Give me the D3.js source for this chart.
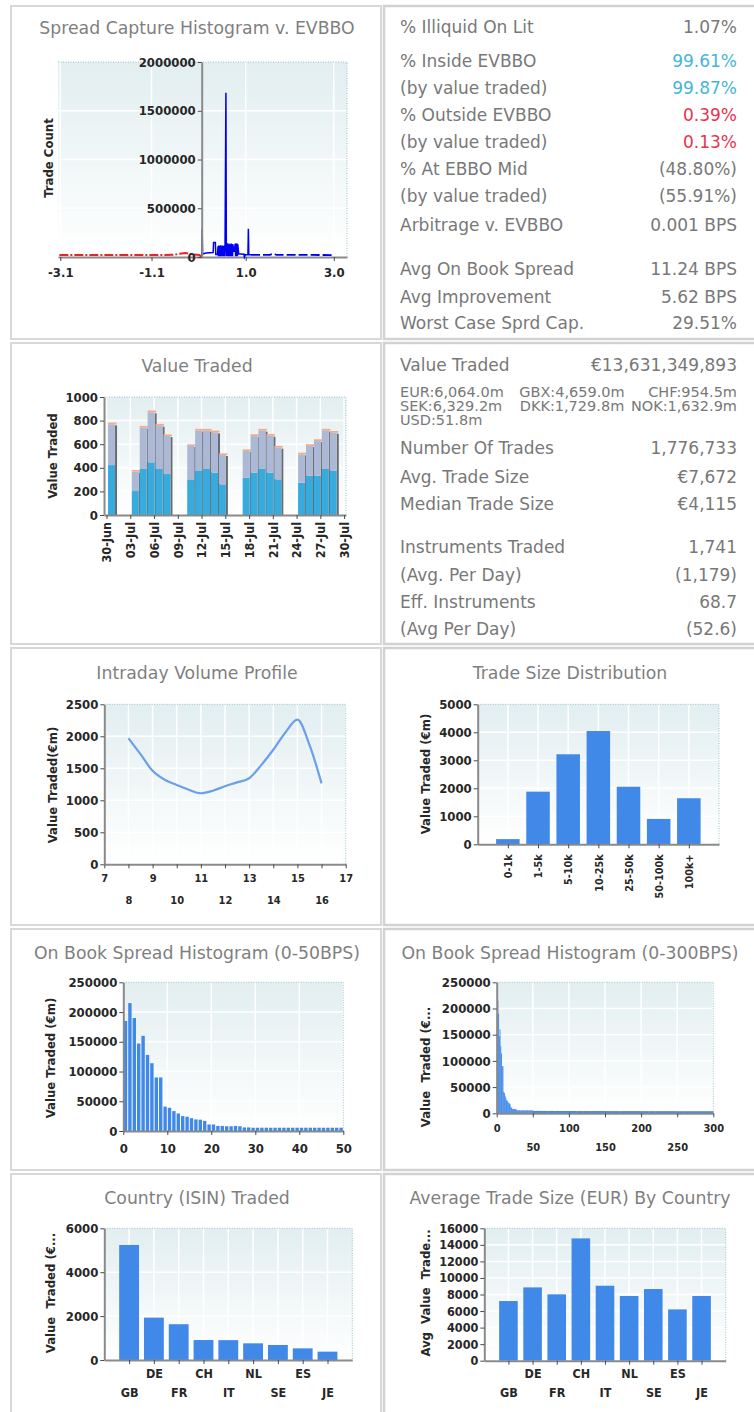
<!DOCTYPE html>
<html>
<head>
<meta charset="utf-8">
<script src="https://cdn.jsdelivr.net/npm/d3@7/dist/d3.min.js"></script>
<style>
  body { margin: 0; background: #fff; }
  svg { display: block; }
  .title { font-family: 'DejaVu Sans', Verdana, sans-serif; font-size: 17.3px; fill: #7f7f7f; }
  .stat { font-family: 'DejaVu Sans', Verdana, sans-serif; font-size: 17px; fill: #787878; }
  .small { font-size: 14.5px; }
  .bold { font-family: 'DejaVu Sans Condensed', 'DejaVu Sans', sans-serif; font-stretch: condensed; font-weight: bold; fill: #272727; }
</style>
</head>
<body>
<script>
// ---- data ----

// spread capture histogram v. EVBBO (x: spread fraction, y: trade count)
const captureRed = [[-3.12, 20000], [-2.0, 20000], [-1.0, 21000], [-0.6, 22000], [-0.5, 34000],
  [-0.35, 40000], [-0.2, 28000], [-0.05, 20000], [0, 0]];
const captureBlue = [[0, 0], [0.01, 290000], [0.02, 30000], [0.10, 40000], [0.26, 45000],
  [0.27, 150000], [0.31, 150000], [0.32, 25000], [0.36, 25000],
  [0.37, 110000], [0.38, 8000], [0.39, 118000], [0.40, 8000], [0.41, 115000], [0.42, 8000],
  [0.43, 120000], [0.44, 8000], [0.45, 116000], [0.46, 8000], [0.47, 118000], [0.48, 8000],
  [0.49, 112000], [0.50, 8000], [0.51, 118000], [0.52, 8000], [0.53, 114000],
  [0.55, 1685000], [0.56, 10000],
  [0.57, 135000], [0.58, 8000], [0.59, 140000], [0.60, 8000], [0.61, 128000], [0.62, 8000],
  [0.63, 136000], [0.64, 8000], [0.65, 130000], [0.66, 8000], [0.67, 138000], [0.68, 8000],
  [0.69, 132000], [0.70, 8000], [0.71, 130000], [0.72, 60000], [0.74, 60000],
  [0.76, 135000], [0.77, 8000], [0.78, 140000], [0.79, 8000], [0.80, 138000], [0.81, 8000],
  [0.82, 130000], [0.84, 30000], [0.88, 30000], [0.96, 28000], [0.97, 0], [0.99, 22000],
  [1.05, 22000], [1.06, 290000], [1.07, 22000], [1.12, 22000]];
const captureTail = [[1.12, 22000], [1.55, 22000], [1.62, 34000], [1.7, 22000], [3.0, 20000]];
const captureXTicks = [-3.1, -1.1, 1.0, 3.0];
const captureYTicks = [0, 500000, 1000000, 1500000, 2000000];

// execution quality stats
const stats1Labels = ["% Illiquid On Lit", "% Inside EVBBO", "(by value traded)", "% Outside EVBBO",
  "(by value traded)", "% At EBBO Mid", "(by value traded)", "Arbitrage v. EVBBO",
  "Avg On Book Spread", "Avg Improvement", "Worst Case Sprd Cap."];
const stats1Values = ["1.07%", "99.61%", "99.87%", "0.39%", "0.13%", "(48.80%)", "(55.91%)",
  "0.001 BPS", "11.24 BPS", "5.62 BPS", "29.51%"];
const stats1Tone = ["", "in", "in", "out", "out", "", "", "", "", "", ""];

// value traded per day (€m), stacked
const vtDates = ["2017-06-30", "2017-07-03", "2017-07-04", "2017-07-05", "2017-07-06", "2017-07-07",
  "2017-07-10", "2017-07-11", "2017-07-12", "2017-07-13", "2017-07-14",
  "2017-07-17", "2017-07-18", "2017-07-19", "2017-07-20", "2017-07-21",
  "2017-07-24", "2017-07-25", "2017-07-26", "2017-07-27", "2017-07-28"];
const vtLower = [423, 203, 390, 446, 390, 347, 302, 373, 390, 359, 260, 316, 359, 390, 359, 302, 274, 333, 333, 390, 376];
const vtUpper = [345, 164, 350, 424, 367, 322, 283, 342, 325, 341, 248, 226, 310, 325, 313, 269, 240, 252, 294, 325, 321];
const vtOther = [15, 14, 15, 16, 15, 14, 14, 15, 15, 15, 14, 14, 15, 15, 15, 14, 14, 15, 15, 15, 15];
const vtTicks = ["2017-06-30", "2017-07-03", "2017-07-06", "2017-07-09", "2017-07-12", "2017-07-15",
  "2017-07-18", "2017-07-21", "2017-07-24", "2017-07-27", "2017-07-30"];
const vtYTicks = [0, 200, 400, 600, 800, 1000];

// value traded stats
const stats2Labels = ["Value Traded", "Number Of Trades", "Avg. Trade Size", "Median Trade Size",
  "Instruments Traded", "(Avg. Per Day)", "Eff. Instruments", "(Avg Per Day)"];
const stats2Values = ["€13,631,349,893", "1,776,733", "€7,672", "€4,115", "1,741", "(1,179)", "68.7", "(52.6)"];
const currencies = ["EUR:6,064.0m", "GBX:4,659.0m", "CHF:954.5m", "SEK:6,329.2m", "DKK:1,729.8m", "NOK:1,632.9m", "USD:51.8m"];

// intraday volume profile (hour, €m)
const intradayHours = [8, 8.5, 9, 9.5, 10, 10.5, 11, 11.5, 12, 12.5, 13, 13.5, 14, 14.5, 15, 15.5, 16];
const intradayValues = [1970, 1720, 1460, 1320, 1240, 1165, 1110, 1150, 1220, 1280, 1345, 1550, 1790, 2060, 2262, 1865, 1265];
const intradayXTicks = [7, 8, 9, 10, 11, 12, 13, 14, 15, 16, 17];
const intradayYTicks = [0, 500, 1000, 1500, 2000, 2500];

// trade size distribution (€m)
const sizeBuckets = ["0-1k", "1-5k", "5-10k", "10-25k", "25-50k", "50-100k", "100k+"];
const sizeValues = [185, 1880, 3215, 4045, 2055, 905, 1645];
const sizeYTicks = [0, 1000, 2000, 3000, 4000, 5000];

// on book spread histogram, 1 BPS bins 0..49
const spreadBins = [185000, 215000, 190000, 147000, 160000, 128000, 114000, 90000, 90000, 41000,
  39000, 33500, 29500, 25000, 24000, 21500, 19500, 19000, 17000, 11000,
  11000, 8500, 8500, 8000, 8000, 8500, 8000, 6000, 6000, 5500,
  5500, 5500, 5500, 5500, 5500, 5500, 5500, 5500, 5500, 5500,
  5500, 5500, 5500, 5500, 5500, 5500, 5500, 5500, 5500, 5500];
// tail of the 0-300 histogram, 10 BPS groups from 50 to 300
const spreadTail = [4600, 4500, 4500, 4400, 4400, 4400, 4300, 4300, 4300, 4300, 4200, 4200, 4200,
  4200, 4200, 4100, 4100, 4100, 4100, 4100, 4000, 4000, 4000, 4000, 4000];
const spreadYTicks = [0, 50000, 100000, 150000, 200000, 250000];
const spread50XTicks = [0, 10, 20, 30, 40, 50];
const spread300XTicks = [0, 50, 100, 150, 200, 250, 300];

// country (ISIN) traded (€m) and average trade size (EUR)
const countries = ["GB", "DE", "FR", "CH", "IT", "NL", "SE", "ES", "JE"];
const countryValues = [5240, 1930, 1630, 910, 905, 760, 685, 530, 380];
const countryAvgSize = [7210, 8860, 8020, 14780, 9060, 7820, 8660, 6200, 7820];
const countryYTicks = [0, 2000, 4000, 6000];
const avgYTicks = [0, 2000, 4000, 6000, 8000, 10000, 12000, 14000, 16000];

// ---- drawing ----
const svg = d3.select("body").append("svg").attr("width", 754).attr("height", 1412);
const grad = svg.append("defs").append("linearGradient").attr("id", "plotbg")
  .attr("x1", 0).attr("y1", 0).attr("x2", 0).attr("y2", 1);
grad.append("stop").attr("offset", "0%").attr("stop-color", "#e2eef0");
grad.append("stop").attr("offset", "100%").attr("stop-color", "#ffffff");

const BLUE = "#4189e8";
const parse = d3.utcParse("%Y-%m-%d");

// panel boxes
const rows = [[6, 339], [343, 644], [648, 925], [929, 1170], [1174, 1418]];
rows.forEach(([t, b]) => {
  svg.append("rect").attr("x", 11).attr("y", t).attr("width", 370).attr("height", b - t)
    .attr("fill", "#fff").attr("stroke", "#d8d8d8").attr("stroke-width", 2);
  svg.append("rect").attr("x", 384).attr("y", t).attr("width", 380).attr("height", b - t)
    .attr("fill", "#fff").attr("stroke", "#d2d2d2").attr("stroke-width", 2.5);
});

function title(text, cx, cy) {
  svg.append("text").attr("class", "title").attr("x", cx).attr("y", cy)
    .attr("dy", "0.35em").attr("text-anchor", "middle").text(text);
}

function frame(x, y, gx, gy) {
  const r = x.range(), x0 = r[0], x1 = r[r.length - 1];
  const [yb, yt] = y.range();
  svg.append("rect").attr("x", x0).attr("y", yt).attr("width", x1 - x0).attr("height", yb - yt)
    .attr("fill", "url(#plotbg)");
  svg.append("g").selectAll("line").data(gx).join("line")
    .attr("x1", d => d).attr("x2", d => d).attr("y1", yt).attr("y2", yb)
    .attr("stroke", "#fff").attr("stroke-width", 1.5);
  svg.append("g").selectAll("line").data(gy).join("line")
    .attr("y1", d => d).attr("y2", d => d).attr("x1", x0).attr("x2", x1)
    .attr("stroke", "#fff").attr("stroke-width", 1.5);
  svg.append("path").attr("d", `M${x0},${yt}H${x1}V${yb}`).attr("fill", "none")
    .attr("stroke", "#93c4ca").attr("stroke-width", 1).attr("stroke-dasharray", "1,1.5");
}

function styleAxis(g, size) {
  g.selectAll("text").attr("class", "bold").style("font-size", size + "px");
  g.select(".domain").attr("stroke", "#8a8a8a").attr("stroke-width", 2);
  g.selectAll(".tick line").attr("stroke", "#4a4a4a");
  return g;
}

function yAxis(xpos, y, ticks, size) {
  const g = svg.append("g").attr("transform", `translate(${xpos},0)`)
    .call(d3.axisLeft(y).tickValues(ticks).tickFormat(d3.format("d")).tickSize(4).tickSizeOuter(0).tickPadding(2));
  return styleAxis(g, size);
}

function xAxis(y0, x, ticks, fmt, size) {
  const g = svg.append("g").attr("transform", `translate(0,${y0})`)
    .call(d3.axisBottom(x).tickValues(ticks).tickFormat(fmt).tickSize(4).tickSizeOuter(0));
  return styleAxis(g, size);
}

function yLabel(text, x, y) {
  svg.append("text").attr("class", "bold").style("font-size", "13px").style("white-space", "pre")
    .attr("transform", `translate(${x},${y}) rotate(-90)`)
    .attr("text-anchor", "middle").attr("dy", "0.35em").text(text);
}

// two-row labels: alternate ticks drop to a second line
function stagger(g, first, second) {
  g.selectAll(".tick text").attr("y", (d, i) => i % 2 ? second : first).attr("dy", "0.35em");
}

// 1. Spread capture histogram
{
  title("Spread Capture Histogram v. EVBBO", 197, 28);
  const x = d3.scaleLinear().domain([-3.15, 0, 3.3]).range([58, 201.7, 347]);
  const y = d3.scaleLinear().domain([0, 2000000]).range([257, 62]);
  frame(x, y, captureXTicks.map(x), captureYTicks.slice(1, -1).map(y));
  const line = d3.line().x(d => x(d[0])).y(d => y(d[1]));
  const gx = xAxis(257, x, captureXTicks, d => d.toFixed(1), 13);
  gx.selectAll(".tick text").attr("y", 20).attr("dy", "0");
  svg.append("path").datum(captureRed).attr("d", line).attr("fill", "none")
    .attr("stroke", "#e2262c").attr("stroke-width", 2).attr("stroke-dasharray", "9,2,2,2");
  svg.append("path").datum(captureBlue).attr("d", line).attr("fill", "none")
    .attr("stroke", "#0000f0").attr("stroke-width", 1.5);
  svg.append("path").datum(captureTail).attr("d", line).attr("fill", "none")
    .attr("stroke", "#0000f0").attr("stroke-width", 1.8).attr("stroke-dasharray", "9,3");
  yAxis(x(0), y, captureYTicks, 13);
  yLabel("Trade Count", 48, 158);
}

// 1b. stats
{
  const rowY = [27, 61, 88, 115, 142, 169, 196, 225, 269, 297, 323];
  const tone = { "": "#787878", in: "#45b6d8", out: "#e8344e" };
  stats1Labels.forEach((t, i) => {
    svg.append("text").attr("class", "stat").attr("x", 400).attr("y", rowY[i]).attr("dy", "0.35em").text(t);
    svg.append("text").attr("class", "stat").attr("x", 737).attr("y", rowY[i]).attr("dy", "0.35em")
      .attr("text-anchor", "end").style("fill", tone[stats1Tone[i]]).text(stats1Values[i]);
  });
}

// 2. Value traded
{
  title("Value Traded", 197, 366);
  const d0 = new Date(+parse("2017-06-30") - 0.32 * 864e5);
  const d1 = new Date(+parse("2017-07-30") + 0.24 * 864e5);
  const x = d3.scaleUtc().domain([d0, d1]).range([104, 346]);
  const y = d3.scaleLinear().domain([0, 1000]).range([515, 397]);
  const ticks = vtTicks.map(parse);
  frame(x, y, ticks.map(x), vtYTicks.slice(1, -1).map(y));
  const bars = svg.append("g");
  vtDates.forEach((ds, i) => {
    const bx = x(parse(ds)) + 1.5, w = 7;
    const lo = vtLower[i], hi = lo + vtUpper[i], top = hi + vtOther[i];
    bars.append("rect").attr("x", bx + w).attr("y", y(hi) + 1).attr("width", 2).attr("height", y(0) - y(hi) - 1).attr("fill", "#6a6a6a");
    bars.append("rect").attr("x", bx).attr("y", y(lo)).attr("width", w).attr("height", y(0) - y(lo)).attr("fill", "#37abde");
    bars.append("rect").attr("x", bx).attr("y", y(hi)).attr("width", w).attr("height", y(lo) - y(hi)).attr("fill", "#abb9d6");
    bars.append("rect").attr("x", bx).attr("y", y(top)).attr("width", w + 1.5).attr("height", y(hi) - y(top)).attr("fill", "#f4a98c");
  });
  const gx = xAxis(515, x, ticks, d3.utcFormat("%d-%b"), 12.5);
  gx.selectAll(".tick text").attr("transform", "rotate(-90)").attr("text-anchor", "end")
    .attr("x", -7).attr("y", 0).attr("dy", "0.35em");
  yAxis(104, y, vtYTicks, 13);
  yLabel("Value Traded", 52, 456);
}

// 2b. value traded stats
{
  const rowY = [365, 448, 477, 504, 547, 575, 602, 629];
  stats2Labels.forEach((t, i) => {
    svg.append("text").attr("class", "stat").attr("x", 400).attr("y", rowY[i]).attr("dy", "0.35em").text(t);
    svg.append("text").attr("class", "stat").attr("x", 737).attr("y", rowY[i]).attr("dy", "0.35em")
      .attr("text-anchor", "end").text(stats2Values[i]);
  });
  const colX = [400, 572, 737], anchor = ["start", "middle", "end"], curY = [392, 406, 420];
  currencies.forEach((t, i) => {
    svg.append("text").attr("class", "stat small").attr("x", colX[i % 3]).attr("y", curY[Math.floor(i / 3)])
      .attr("dy", "0.35em").attr("text-anchor", anchor[i % 3]).text(t);
  });
}

// 3. Intraday volume profile
{
  title("Intraday Volume Profile", 197, 673);
  const x = d3.scaleLinear().domain([7, 17]).range([104.3, 345.7]);
  const y = d3.scaleLinear().domain([0, 2500]).range([864.3, 704.3]);
  frame(x, y, intradayXTicks.map(x), intradayYTicks.slice(1, -1).map(y));
  const line = d3.line().x((d, i) => x(intradayHours[i])).y(d => y(d)).curve(d3.curveMonotoneX);
  svg.append("path").datum(intradayValues).attr("d", line).attr("fill", "none")
    .attr("stroke", "#6c9fea").attr("stroke-width", 2.2);
  const gx = xAxis(864.3, x, intradayXTicks, d3.format("d"), 11);
  stagger(gx, 14, 36);
  yAxis(104.3, y, intradayYTicks, 13);
  yLabel("Value Traded(€m)", 52, 785);
}

// 4. Trade size distribution
{
  title("Trade Size Distribution", 570, 673);
  const x = d3.scalePoint().domain(sizeBuckets).range([477.7, 719]).padding(1);
  const y = d3.scaleLinear().domain([0, 5000]).range([844.3, 704.3]);
  frame(x, y, sizeBuckets.map(x), sizeYTicks.slice(1, -1).map(y));
  const bw = x.step() * 0.78;
  svg.append("g").selectAll("rect").data(sizeValues).join("rect")
    .attr("x", (d, i) => x(sizeBuckets[i]) - bw / 2).attr("y", d => y(d))
    .attr("width", bw).attr("height", d => y(0) - y(d)).attr("fill", BLUE);
  const gx = xAxis(844.3, x, sizeBuckets, d => d, 10.8);
  gx.selectAll(".tick text").attr("transform", "rotate(-90)").attr("text-anchor", "end")
    .attr("x", -10).attr("y", 0).attr("dy", "0.35em");
  yAxis(477.7, y, sizeYTicks, 13);
  yLabel("Value Traded (€m)", 425, 774);
}

// 5. On book spread histogram 0-50
{
  title("On Book Spread Histogram (0-50BPS)", 197, 953);
  const x = d3.scaleLinear().domain([0, 50]).range([123.3, 343.3]);
  const y = d3.scaleLinear().domain([0, 250000]).range([1131, 982.3]);
  frame(x, y, spread50XTicks.map(x), spreadYTicks.slice(1, -1).map(y));
  svg.append("g").selectAll("rect").data(spreadBins).join("rect")
    .attr("x", (d, i) => x(i) + 0.5).attr("y", d => y(d))
    .attr("width", (d, i) => x(i + 1) - x(i) - 1).attr("height", d => y(0) - y(d)).attr("fill", BLUE);
  const gx = xAxis(1131, x, spread50XTicks, d3.format("d"), 13);
  gx.selectAll(".tick text").attr("y", 17).attr("dy", "0.35em");
  yAxis(123.3, y, spreadYTicks, 13);
  yLabel("Value Traded (€m)", 50, 1058);
}

// 6. On book spread histogram 0-300
{
  title("On Book Spread Histogram (0-300BPS)", 570, 953);
  const x = d3.scaleLinear().domain([0, 300]).range([496.7, 713.3]);
  const y = d3.scaleLinear().domain([0, 250000]).range([1113.3, 982.3]);
  frame(x, y, spread300XTicks.map(x), spreadYTicks.slice(1, -1).map(y));
  const g = svg.append("g");
  g.selectAll(".b").data(spreadBins).join("rect")
    .attr("x", (d, i) => x(i)).attr("y", d => y(d))
    .attr("width", x(1) - x(0) + 0.2).attr("height", d => y(0) - y(d)).attr("fill", BLUE);
  g.selectAll(".t").data(spreadTail).join("rect")
    .attr("x", (d, i) => x(50 + i * 10)).attr("y", d => y(d))
    .attr("width", x(10) - x(0) + 0.2).attr("height", d => y(0) - y(d)).attr("fill", BLUE);
  const gx = xAxis(1113.3, x, spread300XTicks, d3.format("d"), 11);
  stagger(gx, 15, 33.4);
  yAxis(496.7, y, spreadYTicks, 13);
  yLabel("Value  Traded (€...", 425, 1067);
}

// 7. Country traded
{
  title("Country (ISIN) Traded", 197, 1198);
  const x = d3.scalePoint().domain(countries).range([104.3, 352.3]).padding(1);
  const y = d3.scaleLinear().domain([0, 6000]).range([1360, 1228.3]);
  frame(x, y, countries.map(x), countryYTicks.slice(1, -1).map(y));
  const bw = x.step() * 0.8;
  svg.append("g").selectAll("rect").data(countryValues).join("rect")
    .attr("x", (d, i) => x(countries[i]) - bw / 2).attr("y", d => y(d))
    .attr("width", bw).attr("height", d => y(0) - y(d)).attr("fill", BLUE);
  const gx = xAxis(1360, x, countries, d => d, 12.5);
  stagger(gx, 32.7, 14);
  yAxis(104.3, y, countryYTicks, 13);
  yLabel("Value  Traded (€...", 50, 1293);
}

// 8. Average trade size by country
{
  title("Average Trade Size (EUR) By Country", 570, 1198);
  const x = d3.scalePoint().domain(countries).range([484.3, 725.7]).padding(1);
  const y = d3.scaleLinear().domain([0, 16000]).range([1360.7, 1228.3]);
  frame(x, y, countries.map(x), avgYTicks.slice(1, -1).map(y));
  const bw = x.step() * 0.77;
  svg.append("g").selectAll("rect").data(countryAvgSize).join("rect")
    .attr("x", (d, i) => x(countries[i]) - bw / 2).attr("y", d => y(d))
    .attr("width", bw).attr("height", d => y(0) - y(d)).attr("fill", BLUE);
  const gx = xAxis(1360.7, x, countries, d => d, 12.5);
  stagger(gx, 32, 13.3);
  yAxis(484.3, y, avgYTicks, 12.5);
  yLabel("Avg  Value  Trade...", 425, 1293);
}
</script>
</body>
</html>
